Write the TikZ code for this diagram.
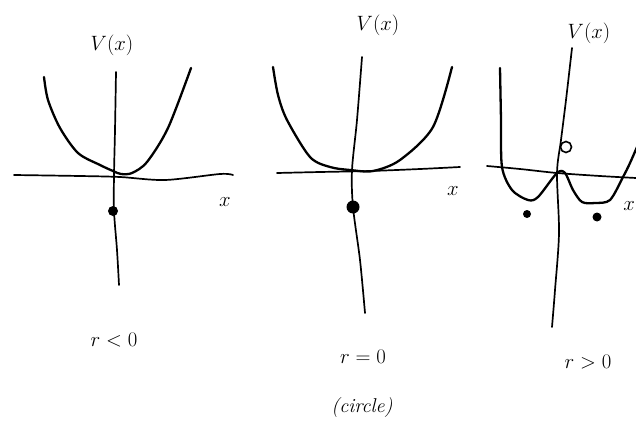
\documentclass[tikz,border=0pt]{standalone}
\usepackage{tikz}
\begin{document}
\begin{tikzpicture}[x=1pt,y=-1pt,
  axisline/.style={line width=1.7pt,line cap=round,line join=round},
  potcurve/.style={line width=2.3pt,line cap=round,line join=round},
  lbl/.style={font=\fontsize{20}{24}\selectfont,inner sep=0pt},
  dotfill/.style={circle,fill=black,inner sep=0pt},
]
\useasboundingbox (0,0) rectangle (636,433);
\fill[white] (0,0) rectangle (636,433);

% ---------- Panel 1: r<0 ----------
\draw[axisline] plot[smooth] coordinates {(14,175) (80,176) (120,177) (165,180) (220,174) (233,175)};
\draw[axisline] plot[smooth] coordinates {(116,72) (115,130) (114,175) (114,211) (117,250) (119,285)};
\draw[potcurve] plot[smooth] coordinates {(44,77) (48,100) (60,128) (78,153) (100,165) (113,171) (121,174) (132,173) (147,162) (168,128) (191,68)};
\node[dotfill,minimum width=9pt,minimum height=10pt] (d1) at (113,211) {};
\node[lbl] (V1) at (112,45) {$V(x)$};
\node[lbl] (x1) at (225,202) {$x$};
\node[lbl] (r1) at (114,340) {$r<0$};

% ---------- Panel 2: r=0 ----------
\draw[axisline] plot[smooth] coordinates {(277,173) (320,172) (370,171) (420,169) (460,167)};
\draw[axisline] plot[smooth] coordinates {(362,57) (357,120) (352,170) (353,207) (360,260) (365,313)};
\draw[potcurve] plot[smooth] coordinates {(273,67) (278,95) (287,120) (310,157) (330,167) (350,170) (373,171) (400,160) (433,127) (452,67)};
\node[dotfill,minimum width=9pt,minimum height=13pt] (d2) at (353,207) {};
\node[lbl] (V2) at (378,25) {$V(x)$};
\node[lbl] (x2) at (453,191) {$x$};
\node[lbl] (r2) at (363,357) {$r=0$};
\node[lbl] (c2) at (362,408) {\itshape (circle)};

% ---------- Panel 3: r>0 ----------
\draw[axisline] plot[smooth] coordinates {(487,166) (520,169) (557,173) (600,176) (636,178)};
\draw[axisline] plot[smooth] coordinates {(572,48) (566,100) (561,140) (557,173) (559,233) (555,290) (552,327)};
\draw[potcurve] plot[smooth,tension=0.5] coordinates {(500,68) (501,120) (502,167) (512,190) (528,200) (538,197) (557,173) (565,173) (573,190) (582,202) (595,203) (610,200) (623,177) (630,163) (640,140)};
\node[circle,draw,line width=1.6pt,minimum size=11pt,inner sep=0pt] (o3) at (566,147) {};
\node[dotfill,minimum width=8pt,minimum height=7pt] (d3a) at (527,214) {};
\node[dotfill,minimum width=7pt,minimum height=9pt] (d3b) at (597,217) {};
\node[lbl] (V3) at (589,33) {$V(x)$};
\node[lbl] (r3) at (588,362) {$r>0$};
\node[lbl,anchor=east] (x3) at (635,206) {$x$};
\end{tikzpicture}
\end{document}
